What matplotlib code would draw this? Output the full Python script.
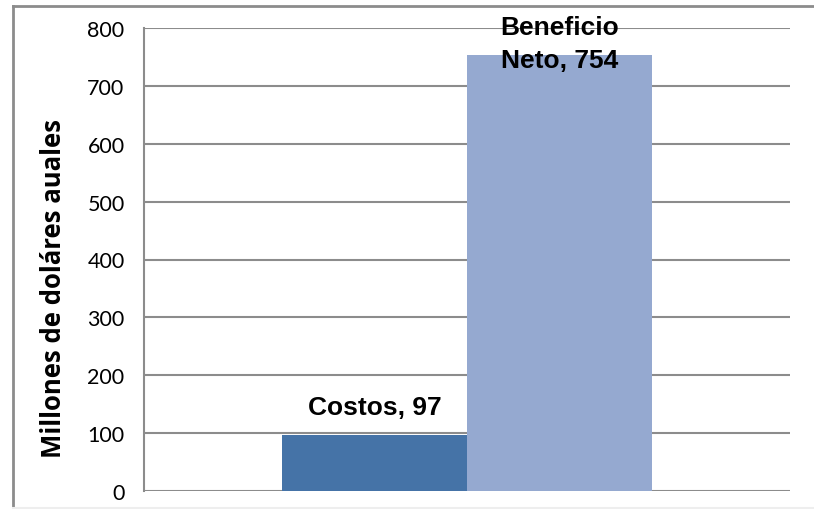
import matplotlib.pyplot as plt

series = ["Costos", "Beneficio\nNeto"]
values = [97, 754]
colors = ["#4573a7", "#95a9d0"]
yticks = [0, 100, 200, 300, 400, 500, 600, 700, 800]
ylabel = "Millones de doláres auales"

fig = plt.figure(figsize=(8.14, 5.10), dpi=100)

# outer chart frame (left and top edges, faint bottom)
frame = fig.add_axes([12.5/814, 1.5/510, 0.995, 502/510], zorder=0)
frame.set_facecolor("none")
frame.set_xticks([])
frame.set_yticks([])
frame.spines["right"].set_visible(False)
for side in ["left", "top"]:
    frame.spines[side].set_color("#8c8c8c")
    frame.spines[side].set_linewidth(2)
frame.spines["bottom"].set_color("#eeeeee")
frame.spines["bottom"].set_linewidth(1.5)

ax = fig.add_axes([144/814, 18/510, 646/814, 463/510], zorder=1)

# one category, two series side by side around x = 0
xs = [-0.5, 0.5]
ax.bar(xs, values, width=1.0, color=colors, zorder=2)

ax.set_xlim(-1.746, 1.746)
ax.set_ylim(0, 800)
ax.set_yticks(yticks)
ax.set_yticklabels([str(t) for t in yticks], fontfamily="Lato", fontsize=15.5)
ax.set_xticks([])
ax.tick_params(axis="y", length=0, pad=14)
ax.yaxis.grid(True, color="#8c8c8c", linewidth=1.5, zorder=0)
for side in ["top", "right", "bottom"]:
    ax.spines[side].set_visible(False)
ax.spines["left"].set_color("#8c8c8c")
ax.spines["left"].set_linewidth(1.5)

# data labels
offsets = [28, 11]
for x, name, v, off in zip(xs, series, values, offsets):
    ax.annotate(f"{name}, {v}", (x, v), xytext=(0, off), textcoords="offset pixels",
                ha="center", va="center", fontfamily="Liberation Sans",
                fontweight="bold", fontsize=19, linespacing=1.45, zorder=3)

fig.text(54/814, 1 - 288/510, ylabel, rotation=90, ha="center", va="center",
         fontfamily="Open Sans", fontweight="bold", fontsize=18.5)

fig.savefig("out.png", dpi=100)
